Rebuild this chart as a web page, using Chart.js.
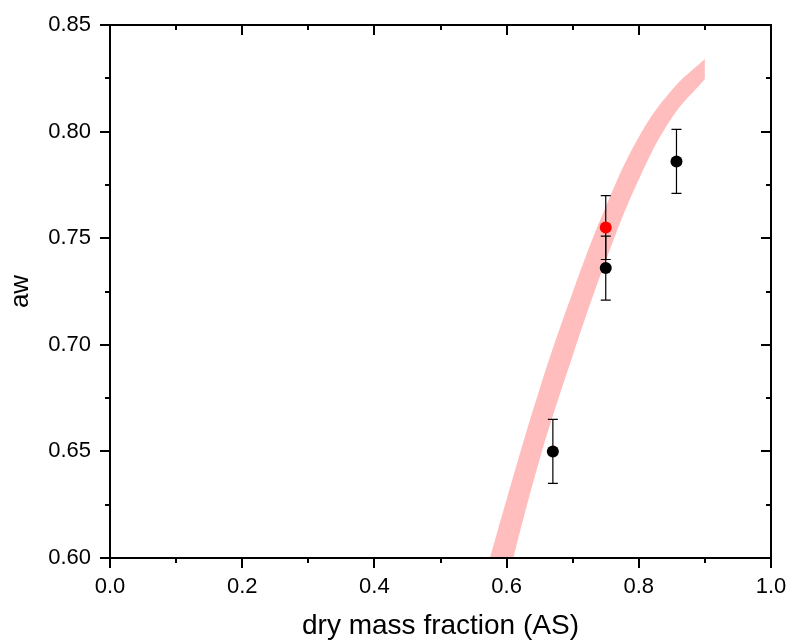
<!DOCTYPE html>
<html>
<head>
<meta charset="utf-8">
<script src="https://cdn.jsdelivr.net/npm/chart.js@4/dist/chart.umd.min.js"></script>
<style>
  body { margin: 0; background: #fff; }
  canvas { display: block; }
</style>
</head>
<body>
<canvas id="chart-aw" width="788" height="641"></canvas>
<script>
// pink model band, sampled along x
const bandX = [0.56, 0.60, 0.65, 0.70, 0.75, 0.80, 0.85, 0.90];
const bandUpper = [0.5836, 0.6274, 0.6793, 0.7246, 0.7647, 0.7975, 0.8195, 0.8340];
const bandLower = [0.5418, 0.5880, 0.6462, 0.6949, 0.7393, 0.7775, 0.8065, 0.8247];

// measured points (black) with error
const measX = [0.67, 0.75, 0.857];
const measY = [0.650, 0.736, 0.786];
const measErr = [0.015, 0.015, 0.015];

// highlighted point (red)
const redX = [0.75];
const redY = [0.755];
const redErr = [0.015];

const FONT = "'Liberation Sans', Arial, sans-serif";

function toPoints(xs, ys) {
    return xs.map((x, i) => ({ x: x, y: ys[i] }));
}

const errorBars = {
    id: 'errorBars',
    beforeDatasetDraw(chart, args) {
        const ds = chart.data.datasets[args.index];
        if (!ds.errors) return;
        const xs = chart.scales.x;
        const ys = chart.scales.y;
        const ctx = chart.ctx;
        ctx.save();
        ctx.strokeStyle = '#000';
        ctx.lineWidth = 1.2;
        ds.data.forEach((p, i) => {
            const px = xs.getPixelForValue(p.x);
            const top = ys.getPixelForValue(p.y + ds.errors[i]);
            const bot = ys.getPixelForValue(p.y - ds.errors[i]);
            ctx.beginPath();
            ctx.moveTo(px, top);
            ctx.lineTo(px, bot);
            ctx.moveTo(px - 5, top);
            ctx.lineTo(px + 5, top);
            ctx.moveTo(px - 5, bot);
            ctx.lineTo(px + 5, bot);
            ctx.stroke();
        });
        ctx.restore();
    }
};

// box frame with major/minor ticks: out on left/bottom, in on top/right
const frame = {
    id: 'frame',
    afterDraw(chart) {
        const { ctx, chartArea: a } = chart;
        const xs = chart.scales.x;
        const ys = chart.scales.y;
        ctx.save();
        ctx.strokeStyle = '#000';
        ctx.lineWidth = 2;
        ctx.strokeRect(a.left, a.top, a.right - a.left, a.bottom - a.top);

        const xMajor = xs.ticks.map(t => t.value);
        const xMinor = [];
        for (let i = 0; i < xMajor.length - 1; ++i) xMinor.push((xMajor[i] + xMajor[i + 1]) / 2);
        const yMajor = ys.ticks.map(t => t.value);
        const yMinor = [];
        for (let i = 0; i < yMajor.length - 1; ++i) yMinor.push((yMajor[i] + yMajor[i + 1]) / 2);

        ctx.beginPath();
        const xTick = (v, len) => {
            const p = Math.round(xs.getPixelForValue(v));
            ctx.moveTo(p, a.bottom);
            ctx.lineTo(p, a.bottom + len);
            ctx.moveTo(p, a.top);
            ctx.lineTo(p, a.top + len);
        };
        const yTick = (v, len) => {
            const p = Math.round(ys.getPixelForValue(v));
            ctx.moveTo(a.left, p);
            ctx.lineTo(a.left - len, p);
            ctx.moveTo(a.right, p);
            ctx.lineTo(a.right - len, p);
        };
        xMajor.forEach(v => xTick(v, 10));
        xMinor.forEach(v => xTick(v, 5));
        yMajor.forEach(v => yTick(v, 10));
        yMinor.forEach(v => yTick(v, 5));
        ctx.stroke();
        ctx.restore();
    }
};

const ctx = document.getElementById('chart-aw');
new Chart(ctx, {
    type: 'scatter',
    data: {
        datasets: [
            {
                type: 'line',
                data: toPoints(bandX, bandUpper),
                borderWidth: 0,
                borderColor: 'transparent',
                pointRadius: 0,
                tension: 0.4,
                fill: false,
                order: 5
            },
            {
                type: 'line',
                data: toPoints(bandX, bandLower),
                borderWidth: 0,
                borderColor: 'transparent',
                pointRadius: 0,
                tension: 0.4,
                backgroundColor: '#ffbdbd',
                fill: '-1',
                order: 4
            },
            {
                data: toPoints(measX, measY),
                errors: measErr,
                pointRadius: 6,
                backgroundColor: '#000',
                borderWidth: 0,
                order: 1
            },
            {
                data: toPoints(redX, redY),
                errors: redErr,
                pointRadius: 6,
                backgroundColor: '#ff0000',
                borderWidth: 0,
                order: 0
            }
        ]
    },
    options: {
        responsive: false,
        animation: false,
        layout: { padding: { top: 25, right: 17, left: 0, bottom: 0 } },
        plugins: {
            legend: { display: false },
            tooltip: { enabled: false },
            filler: { drawTime: 'beforeDatasetsDraw' }
        },
        scales: {
            x: {
                type: 'linear',
                min: 0,
                max: 1,
                ticks: {
                    stepSize: 0.2,
                    color: '#000',
                    padding: 16,
                    maxRotation: 0,
                    font: { family: FONT, size: 22 },
                    callback: v => v.toFixed(1)
                },
                grid: { display: false, drawTicks: false },
                border: { display: false },
                title: {
                    display: true,
                    text: 'dry mass fraction (AS)',
                    color: '#000',
                    font: { family: FONT, size: 28, lineHeight: 1 },
                    padding: { top: 0, bottom: 0.7 }
                },
                afterFit: s => {
                    s.height = 83;
                    s.paddingLeft = 0;
                    s.paddingRight = 0;
                }
            },
            y: {
                type: 'linear',
                min: 0.6,
                max: 0.85,
                ticks: {
                    stepSize: 0.05,
                    color: '#000',
                    padding: 19,
                    font: { family: FONT, size: 22 },
                    callback: v => v.toFixed(2)
                },
                grid: { display: false, drawTicks: false },
                border: { display: false },
                title: {
                    display: true,
                    text: 'aw',
                    color: '#000',
                    font: { family: FONT, size: 26, lineHeight: 1 },
                    padding: { top: 8, bottom: 0 }
                },
                afterFit: s => {
                    s.width = 110;
                    s.paddingTop = 0;
                    s.paddingBottom = 0;
                }
            }
        }
    },
    plugins: [errorBars, frame]
});
</script>
</body>
</html>
